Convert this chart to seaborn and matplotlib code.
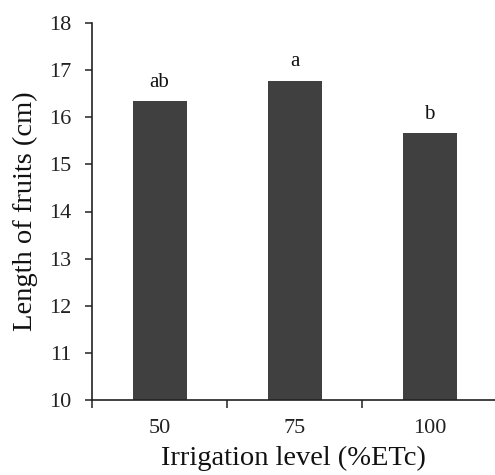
import matplotlib
matplotlib.use("Agg")
import matplotlib.pyplot as plt
import seaborn as sns
import pandas as pd

categories = ["50", "75", "100"]
lengths = [16.34, 16.77, 15.66]
letters = ["ab", "a", "b"]

sns.set_theme(style="white")
plt.rcParams["font.family"] = ["Liberation Serif", "DejaVu Serif"]

df = pd.DataFrame({"level": categories, "length": lengths})

fig = plt.figure(figsize=(4.95, 4.75), dpi=100)
ax = fig.add_axes([92/495, 1 - 400/475, 403/495, 377/475])

sns.barplot(data=df, x="level", y="length", order=categories, color="#404040",
            width=0.4, saturation=1, ax=ax, edgecolor="none")

for i, (v, t) in enumerate(zip(lengths, letters)):
    ax.annotate(t, (i, v), xytext=(0, 7), textcoords="offset points",
                ha="center", va="bottom", fontsize=15, color="#111111")

ax.set_ylim(10, 18)
ax.set_xlim(-0.5, -0.5 + 403/135)
ax.set_yticks(range(10, 19))
ax.tick_params(axis="y", left=True, direction="out", length=5, width=1.1,
               labelsize=16, colors="#222222", pad=10)
ax.tick_params(axis="x", which="major", bottom=False, length=0, labelsize=16,
               colors="#222222", pad=14)
ax.set_xticks([-0.5, 0.5, 1.5], minor=True)
ax.tick_params(axis="x", which="minor", bottom=True, direction="out", length=6,
               width=1.1, color="#222222")

for s in ["top", "right"]:
    ax.spines[s].set_visible(False)
for s in ["left", "bottom"]:
    ax.spines[s].set_color("#222222")
    ax.spines[s].set_linewidth(1.2)

ax.set_xlabel("Irrigation level (%ETc)", fontsize=20.5, color="#111111", labelpad=5)
ax.set_ylabel("Length of fruits (cm)", fontsize=20.5, color="#111111", labelpad=8)

fig.savefig("out.png", dpi=100)
